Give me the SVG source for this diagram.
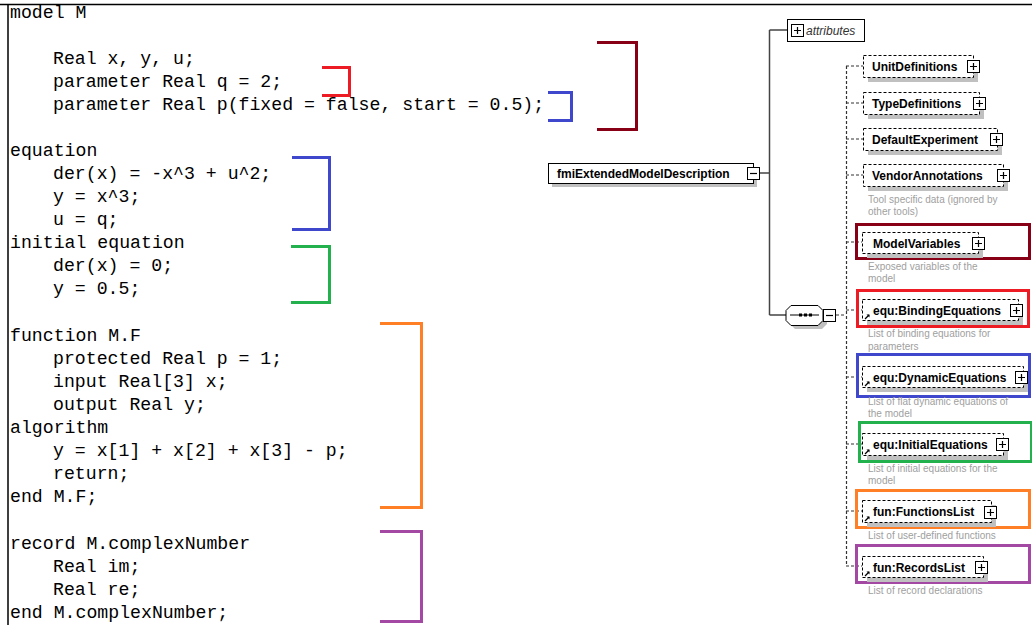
<svg xmlns="http://www.w3.org/2000/svg" width="1032" height="625" viewBox="0 0 1032 625">
<style>
.code{font-family:"Liberation Mono","Courier New",monospace;font-size:18.2px;fill:#000}
.br{fill:none;stroke-width:3}
.lbl{font-family:"Liberation Sans",Arial,sans-serif;font-size:12px;font-weight:bold;fill:#000}
.cap{font-family:"Liberation Sans",Arial,sans-serif;font-size:10px;fill:#a0a0a0}
.shadow{fill:#c0c0c0}
.dbox{fill:#fff;stroke:#000;stroke-width:1;stroke-dasharray:3,2}
.sbox{fill:#fff;stroke:#000;stroke-width:1}
.pm{fill:#fff;stroke:#000;stroke-width:1}
.pmline{stroke:#000;stroke-width:1.2}
.solid{fill:none;stroke:#444;stroke-width:1.5}
.dash{fill:none;stroke:#333;stroke-width:1.2;stroke-dasharray:3,2}
.hl{fill:none;stroke-width:3}
</style>
<defs>
<g id="plus"><rect class="pm" x="0" y="0" width="12" height="12"/><path class="pmline" d="M2.5,6H9.5M6,2.5V9.5"/></g>
<g id="minus"><rect class="pm" x="0" y="0" width="12" height="12"/><path class="pmline" d="M2.5,6H9.5"/></g>
<g id="ref"><path d="M1,6L5,2" stroke="#000" stroke-width="1.3"/><path d="M2.5,1.5H5.5V4.5Z" fill="#000"/></g>
</defs>

<!-- frame -->
<path d="M0,4.5H1032M8,4.5V625" stroke="#000" stroke-width="1.5" fill="none"/>

<!-- code -->
<g id="code">
<text class="code" x="10" y="18">model M</text>
<text class="code" x="53" y="64">Real x, y, u;</text>
<text class="code" x="53" y="87">parameter Real q = 2;</text>
<text class="code" x="53" y="110">parameter Real p(fixed = false, start = 0.5);</text>
<text class="code" x="10" y="156">equation</text>
<text class="code" x="53" y="179">der(x) = -x^3 + u^2;</text>
<text class="code" x="53" y="202">y = x^3;</text>
<text class="code" x="53" y="225">u = q;</text>
<text class="code" x="10" y="248">initial equation</text>
<text class="code" x="53" y="271">der(x) = 0;</text>
<text class="code" x="53" y="294">y = 0.5;</text>
<text class="code" x="10" y="341">function M.F</text>
<text class="code" x="53" y="364">protected Real p = 1;</text>
<text class="code" x="53" y="387">input Real[3] x;</text>
<text class="code" x="53" y="410">output Real y;</text>
<text class="code" x="10" y="433">algorithm</text>
<text class="code" x="53" y="456">y = x[1] + x[2] + x[3] - p;</text>
<text class="code" x="53" y="479">return;</text>
<text class="code" x="10" y="502">end M.F;</text>
<text class="code" x="10" y="549">record M.complexNumber</text>
<text class="code" x="53" y="572">Real im;</text>
<text class="code" x="53" y="595">Real re;</text>
<text class="code" x="10" y="618">end M.complexNumber;</text>
</g>

<!-- brackets -->
<g id="brackets">
<path class="br" stroke="#ED1C24" d="M322,67.5H349.5V95.5H322"/>
<path class="br" stroke="#3F48CC" d="M548,92.5H571.5V120.5H548"/>
<path class="br" stroke="#880015" d="M597,42.5H636.5V129.5H597"/>
<path class="br" stroke="#3F48CC" d="M292,157.5H329.5V229.5H292"/>
<path class="br" stroke="#22B14C" d="M291,246.5H329.5V302.5H291"/>
<path class="br" stroke="#FF7F27" d="M380,323.5H421.5V507.5H380"/>
<path class="br" stroke="#A349A4" d="M380,531.5H421.5V621.5H380"/>
</g>

<!-- connectors -->
<g id="connectors">
<path class="solid" d="M760,173H769.5M769.5,30V315M769.5,30H787M769.5,315H786"/>
<path class="dash" d="M836,315H846"/>
<path class="dash" d="M846.5,66V566"/>
<path class="dash" d="M846,66H863M846,103H863M846,139H863M846,175H863M846,242H862M846,310H862M846,377H862M846,444H862M846,511H862M846,566H862"/>
</g>

<!-- root element -->
<g id="fmiExtendedModelDescription">
<rect class="shadow" x="552" y="167" width="205" height="20"/>
<rect class="sbox" x="548.5" y="163.5" width="205" height="20"/>
<text class="lbl" x="557" y="178" font-size="12.7">fmiExtendedModelDescription</text>
<use href="#minus" x="747.5" y="167.5"/>
</g>

<g id="attributes">
<rect class="sbox" x="787.5" y="19.5" width="77" height="22"/>
<use href="#plus" x="791.5" y="24.5"/>
<text x="806" y="35" font-family="'Liberation Sans',Arial,sans-serif" font-size="12px" font-style="italic" fill="#333">attributes</text>
</g>

<g id="sequence">
<path class="shadow" d="M795,309H822L827,314V324L822,329H795L790,324V314Z"/>
<path d="M791,305.5H818L823,310.5V320.5L818,325.5H791L786,320.5V310.5Z" fill="#fff" stroke="#000" stroke-width="1"/>
<path d="M790,315H819" stroke="#000" stroke-width="1"/>
<rect x="799" y="313.5" width="3" height="3" fill="#000"/>
<rect x="804" y="313.5" width="3" height="3" fill="#000"/>
<rect x="809" y="313.5" width="3" height="3" fill="#000"/>
<use href="#minus" x="823.5" y="309.5"/>
</g>

<g id="UnitDefinitions">
<rect class="shadow" x="868" y="60" width="110" height="22"/>
<rect class="dbox" x="863.5" y="55.5" width="110" height="22"/>
<text class="lbl" x="872" y="71">UnitDefinitions</text>
<use href="#plus" x="967.5" y="60.5"/>
</g>

<g id="TypeDefinitions">
<rect class="shadow" x="868" y="97" width="116" height="22"/>
<rect class="dbox" x="863.5" y="92.5" width="116" height="22"/>
<text class="lbl" x="872" y="108">TypeDefinitions</text>
<use href="#plus" x="973.5" y="97.5"/>
</g>

<g id="DefaultExperiment">
<rect class="shadow" x="868" y="133" width="134" height="22"/>
<rect class="dbox" x="863.5" y="128.5" width="134" height="22"/>
<text class="lbl" x="872" y="144">DefaultExperiment</text>
<use href="#plus" x="990.5" y="133.5"/>
</g>

<g id="VendorAnnotations">
<rect class="shadow" x="868" y="169" width="140" height="22"/>
<rect class="dbox" x="863.5" y="164.5" width="140" height="22"/>
<text class="lbl" x="872" y="180">VendorAnnotations</text>
<use href="#plus" x="997.5" y="169.5"/>
<text class="cap" x="868" y="203">Tool specific data (ignored by</text>
<text class="cap" x="868" y="215">other tools)</text>
</g>

<g id="ModelVariables">
<rect class="hl" stroke="#880015" x="856.5" y="224.5" width="173" height="34"/>
<rect class="shadow" x="867" y="237" width="116" height="21"/>
<rect class="dbox" x="862.5" y="232.5" width="116" height="21"/>
<text class="lbl" x="873" y="248">ModelVariables</text>
<use href="#plus" x="972.5" y="237.5"/>
<text class="cap" x="868" y="270">Exposed variables of the</text>
<text class="cap" x="868" y="282">model</text>
</g>

<g id="BindingEquations">
<rect class="hl" stroke="#ED1C24" x="857.5" y="290.5" width="171" height="36"/>
<rect class="shadow" x="867" y="304" width="156" height="21"/>
<rect class="dbox" x="862.5" y="299.5" width="156" height="21"/>
<use href="#ref" x="864" y="313"/>
<text class="lbl" x="873" y="315">equ:BindingEquations</text>
<use href="#plus" x="1010.5" y="304.5"/>
<text class="cap" x="868" y="337">List of binding equations for</text>
<text class="cap" x="868" y="350">parameters</text>
</g>

<g id="DynamicEquations">
<rect class="hl" stroke="#3F48CC" x="857.5" y="354.5" width="172" height="42"/>
<rect class="shadow" x="867" y="371" width="161" height="21"/>
<rect class="dbox" x="862.5" y="366.5" width="161" height="21"/>
<use href="#ref" x="864" y="380"/>
<text class="lbl" x="873" y="382">equ:DynamicEquations</text>
<use href="#plus" x="1015.5" y="371.5"/>
<text class="cap" x="868" y="405">List of flat dynamic equations of</text>
<text class="cap" x="868" y="417">the model</text>
</g>

<g id="InitialEquations">
<rect class="hl" stroke="#22B14C" x="859.5" y="422.5" width="172" height="39"/>
<rect class="shadow" x="867" y="438" width="141" height="22"/>
<rect class="dbox" x="862.5" y="433.5" width="141" height="22"/>
<use href="#ref" x="864" y="448"/>
<text class="lbl" x="873" y="449">equ:InitialEquations</text>
<use href="#plus" x="996.5" y="438.5"/>
<text class="cap" x="868" y="472">List of initial equations for the</text>
<text class="cap" x="868" y="484">model</text>
</g>

<g id="FunctionsList">
<rect class="hl" stroke="#FF7F27" x="856.5" y="490.5" width="173" height="37"/>
<rect class="shadow" x="867" y="505" width="129" height="22"/>
<rect class="dbox" x="862.5" y="500.5" width="129" height="22"/>
<use href="#ref" x="864" y="515"/>
<text class="lbl" x="873" y="516">fun:FunctionsList</text>
<use href="#plus" x="984.5" y="506.5"/>
<text class="cap" x="868" y="539">List of user-defined functions</text>
</g>

<g id="RecordsList">
<rect class="hl" stroke="#A349A4" x="856.5" y="545.5" width="173" height="37"/>
<rect class="shadow" x="867" y="561" width="121" height="21"/>
<rect class="dbox" x="862.5" y="556.5" width="121" height="21"/>
<use href="#ref" x="864" y="570"/>
<text class="lbl" x="873" y="572">fun:RecordsList</text>
<use href="#plus" x="975.5" y="561.5"/>
<text class="cap" x="868" y="594">List of record declarations</text>
</g>
</svg>
